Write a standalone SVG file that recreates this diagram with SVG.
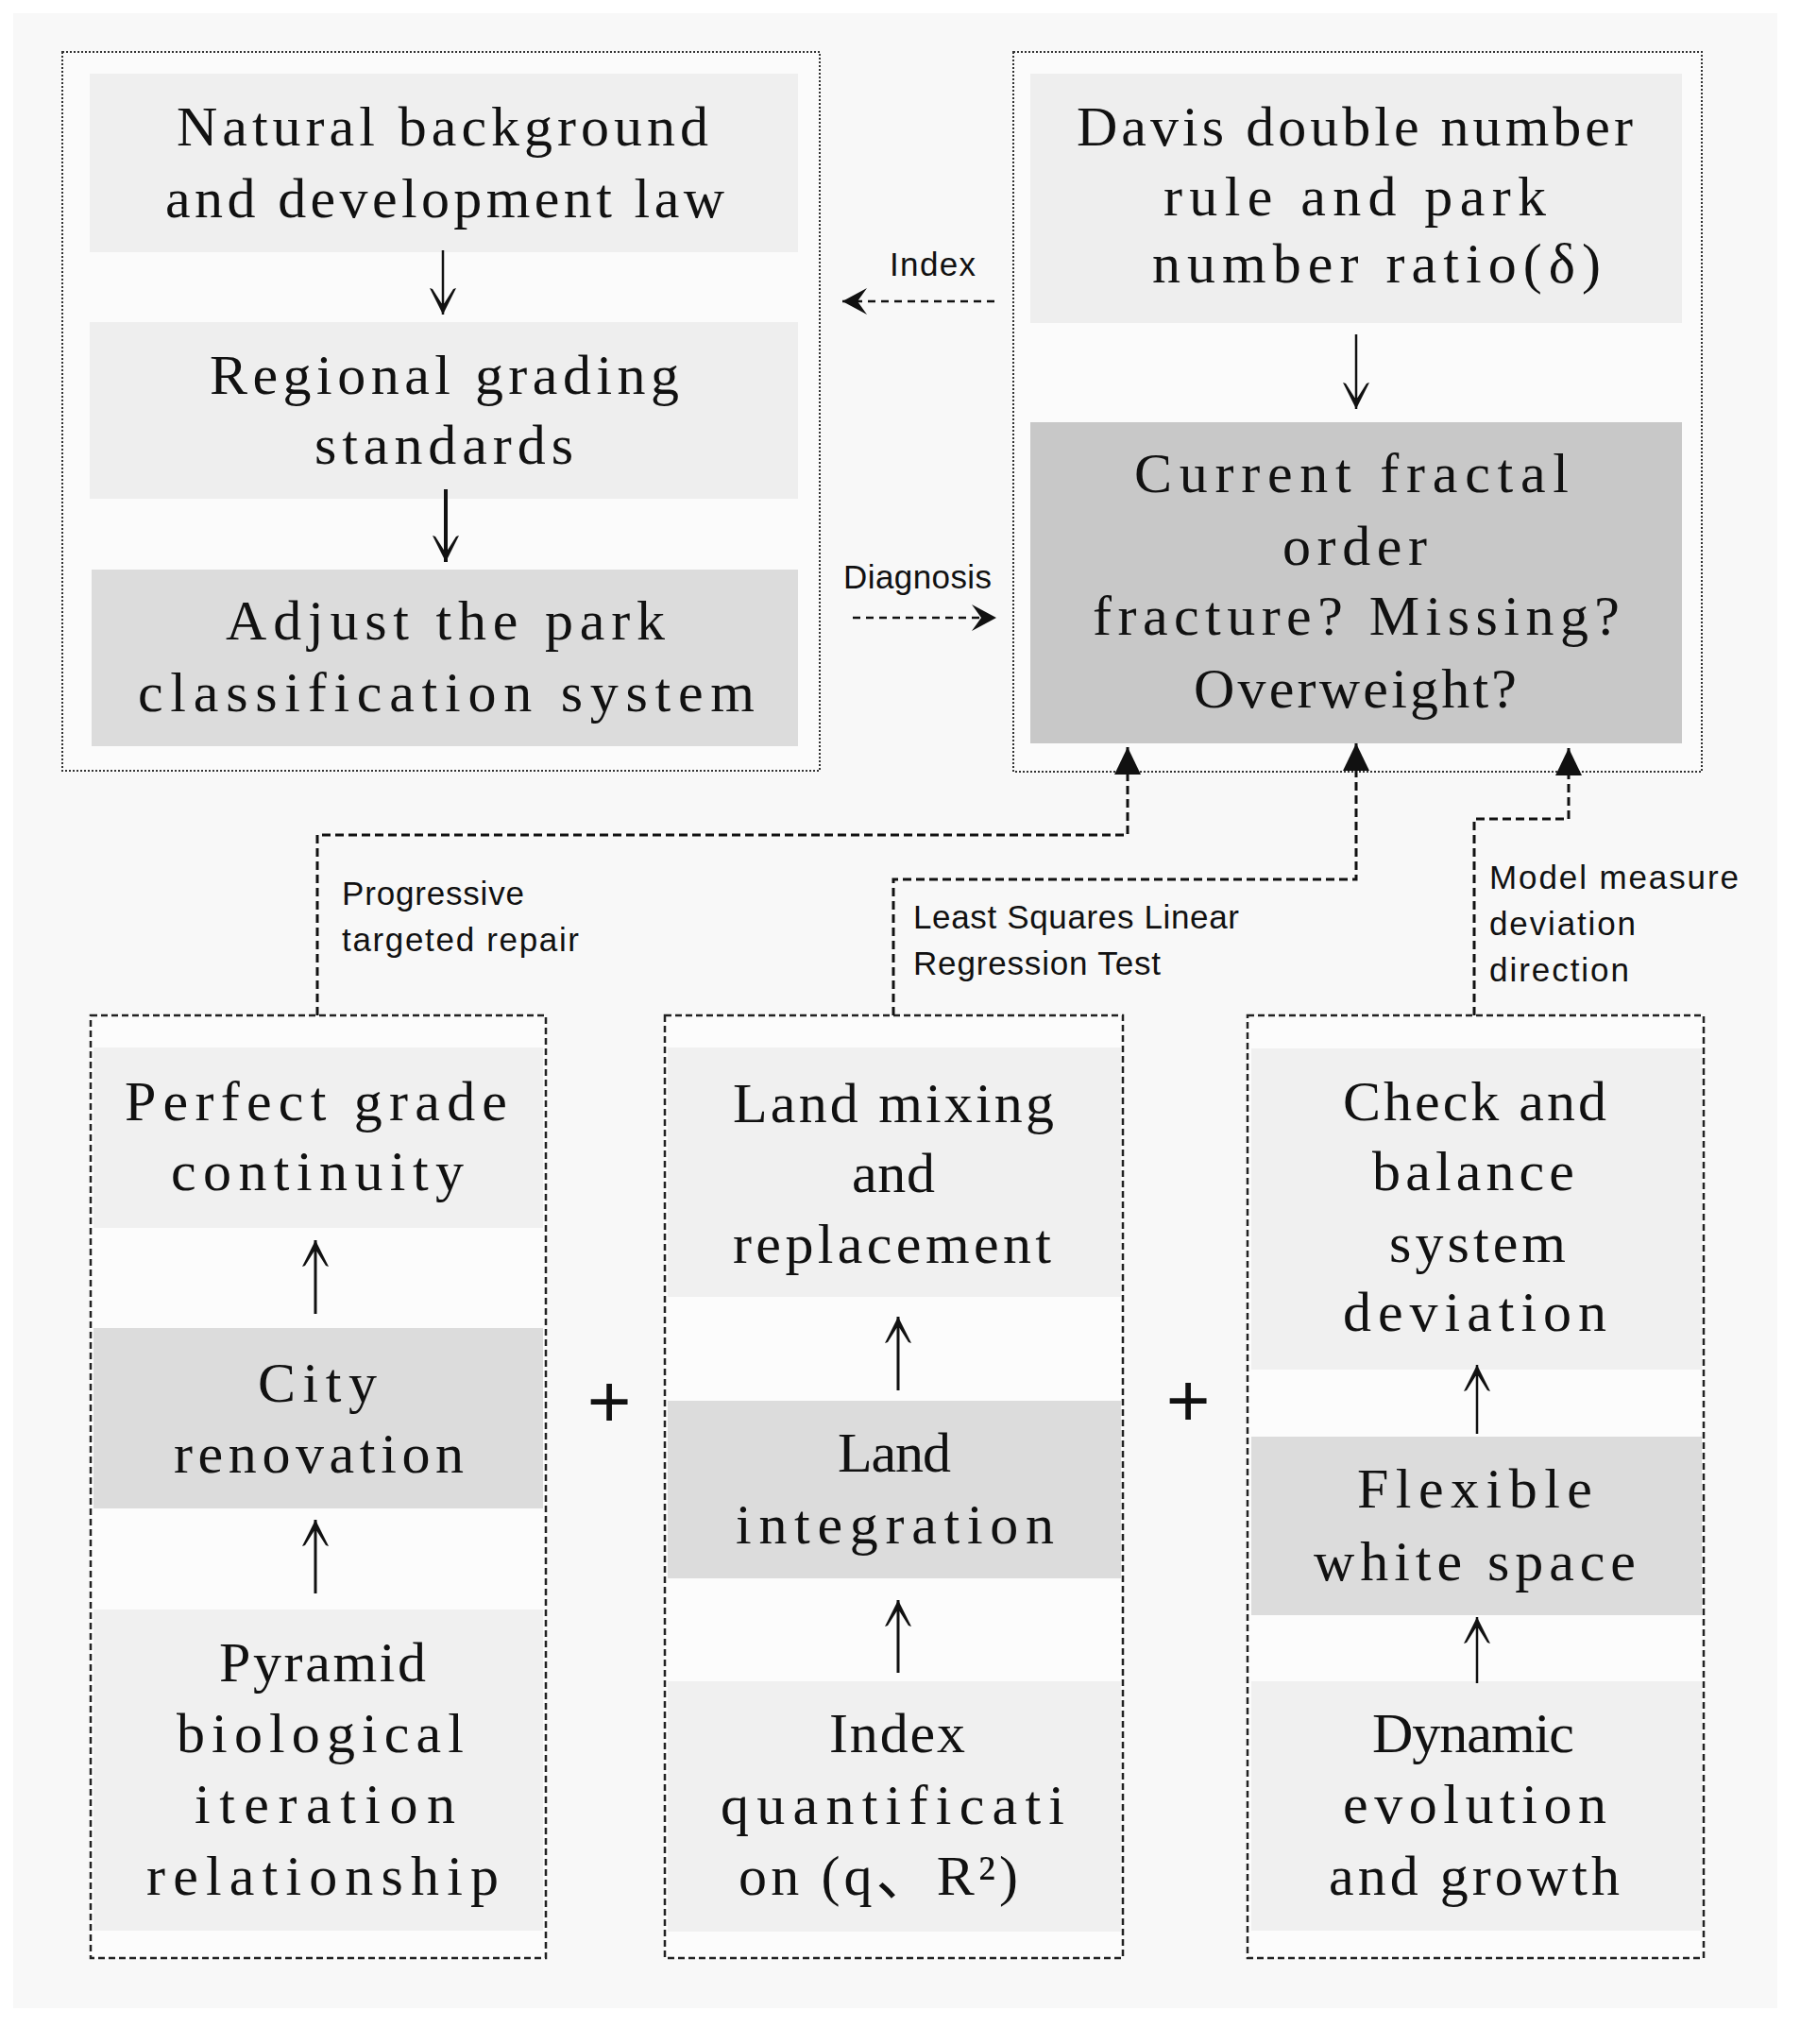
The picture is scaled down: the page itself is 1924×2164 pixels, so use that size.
<svg xmlns="http://www.w3.org/2000/svg" width="1924" height="2164" viewBox="0 0 1924 2164">
<defs>
<style>
.t{font-family:"Liberation Serif","Noto Sans CJK SC",serif;font-size:60px;fill:#111;}
.l{font-family:"Liberation Sans","Noto Sans",sans-serif;font-size:35px;fill:#111;}
.lite{fill:#f0f0f0;}
.mid{fill:#dcdcdc;}
.dark{fill:#c8c8c8;}
.dot{fill:#fbfbfb;stroke:#333;stroke-width:2;stroke-dasharray:2 2;}
.dash{fill:#fcfcfc;stroke:#222;stroke-width:2.5;stroke-dasharray:7 4;}
.con{fill:none;stroke:#111;stroke-width:3;stroke-dasharray:9 5;}
.arr{fill:none;stroke:#111;stroke-width:2.5;}
</style>
<marker id="vh" markerUnits="userSpaceOnUse" orient="auto" refX="0" refY="0" overflow="visible">
<path d="M0,0 L-28,-14 L-27,-11 L-12,-1.5 L-12,1.5 L-27,11 L-28,14 Z" fill="#111"/>
</marker>
<marker id="tri" markerUnits="userSpaceOnUse" orient="auto" refX="0" refY="0" overflow="visible">
<path d="M0,0 L-29,-14 L-29,14 Z" fill="#111"/>
</marker>
<marker id="st" markerUnits="userSpaceOnUse" orient="auto" refX="0" refY="0" overflow="visible">
<path d="M0,0 L-26,-14 L-16,0 L-26,14 Z" fill="#111"/>
</marker>
</defs>
<rect x="0" y="0" width="1924" height="2164" fill="#ffffff"/>
<rect x="14" y="14" width="1868" height="2112" fill="#f8f8f8"/>

<g id="group-top-left">
<rect class="dot" x="66" y="55" width="802" height="761"/>
<g id="n-natural">
<rect class="lite" x="95" y="78" width="750" height="189" style="fill:#efefef"/>
<text class="t" x="187" y="154" textLength="563" lengthAdjust="spacing">Natural background</text>
<text class="t" x="175" y="230" textLength="592" lengthAdjust="spacing">and development law</text>
</g>
<g id="n-regional">
<rect class="lite" x="95" y="341" width="750" height="187" style="fill:#eeeeee"/>
<text class="t" x="222" y="417" textLength="497" lengthAdjust="spacing">Regional grading</text>
<text class="t" x="333" y="491" textLength="274" lengthAdjust="spacing">standards</text>
</g>
<g id="n-adjust">
<rect class="mid" x="97" y="603" width="748" height="187"/>
<text class="t" x="239" y="677" textLength="465" lengthAdjust="spacing">Adjust the park</text>
<text class="t" x="146" y="753" textLength="653" lengthAdjust="spacing">classification system</text>
</g>
</g>

<g id="group-top-right">
<rect class="dot" x="1073" y="55" width="729" height="762"/>
<g id="n-davis">
<rect class="lite" x="1091" y="78" width="690" height="264" style="fill:#eeeeee"/>
<text class="t" x="1140" y="154" textLength="589" lengthAdjust="spacing">Davis double number</text>
<text class="t" x="1232" y="228" textLength="405" lengthAdjust="spacing">rule and park</text>
<text class="t" x="1220" y="299" textLength="475" lengthAdjust="spacing">number ratio(δ)</text>
</g>
<g id="n-current">
<rect class="dark" x="1091" y="447" width="690" height="340"/>
<text class="t" x="1201" y="521" textLength="460" lengthAdjust="spacing">Current fractal</text>
<text class="t" x="1358" y="598" textLength="153" lengthAdjust="spacing">order</text>
<text class="t" x="1157" y="672" textLength="558" lengthAdjust="spacing">fracture? Missing?</text>
<text class="t" x="1264" y="749" textLength="342" lengthAdjust="spacing">Overweight?</text>
</g>
</g>

<g id="group-bottom-left">
<rect class="dash" x="96" y="1075" width="482" height="998"/>
<g id="n-perfect">
<rect class="lite" x="99" y="1109" width="476" height="191"/>
<text class="t" x="132" y="1186" textLength="405" lengthAdjust="spacing">Perfect grade</text>
<text class="t" x="181" y="1260" textLength="310" lengthAdjust="spacing">continuity</text>
</g>
<g id="n-city">
<rect class="mid" x="99" y="1406" width="476" height="191"/>
<text class="t" x="273" y="1484" textLength="126" lengthAdjust="spacing">City</text>
<text class="t" x="184" y="1559" textLength="307" lengthAdjust="spacing">renovation</text>
</g>
<g id="n-pyramid">
<rect class="lite" x="99" y="1704" width="476" height="340"/>
<text class="t" x="232" y="1780" textLength="219" lengthAdjust="spacing">Pyramid</text>
<text class="t" x="187" y="1855" textLength="304" lengthAdjust="spacing">biological</text>
<text class="t" x="206" y="1930" textLength="276" lengthAdjust="spacing">iteration</text>
<text class="t" x="155" y="2006" textLength="373" lengthAdjust="spacing">relationship</text>
</g>
</g>

<g id="group-bottom-middle">
<rect class="dash" x="704" y="1075" width="485" height="998"/>
<g id="n-landmix">
<rect class="lite" x="707" y="1109" width="480" height="264"/>
<text class="t" x="776" y="1188" textLength="340" lengthAdjust="spacing">Land mixing</text>
<text class="t" x="902" y="1262" textLength="88" lengthAdjust="spacing">and</text>
<text class="t" x="776" y="1337" textLength="337" lengthAdjust="spacing">replacement</text>
</g>
<g id="n-landint">
<rect class="mid" x="707" y="1483" width="480" height="188"/>
<text class="t" x="887" y="1558" textLength="120" lengthAdjust="spacing">Land</text>
<text class="t" x="779" y="1634" textLength="337" lengthAdjust="spacing">integration</text>
</g>
<g id="n-index">
<rect class="lite" x="707" y="1780" width="480" height="265"/>
<text class="t" x="878" y="1855" textLength="144" lengthAdjust="spacing">Index</text>
<text class="t" x="763" y="1931" textLength="364" lengthAdjust="spacing">quantificati</text>
<text class="t" x="782" y="2006" textLength="296" lengthAdjust="spacing">on (q、R²)</text>
</g>
</g>

<g id="group-bottom-right">
<rect class="dash" x="1321" y="1075" width="483" height="998"/>
<g id="n-check">
<rect class="lite" x="1325" y="1110" width="477" height="340"/>
<text class="t" x="1422" y="1186" textLength="279" lengthAdjust="spacing">Check and</text>
<text class="t" x="1453" y="1260" textLength="214" lengthAdjust="spacing">balance</text>
<text class="t" x="1471" y="1336" textLength="187" lengthAdjust="spacing">system</text>
<text class="t" x="1422" y="1409" textLength="279" lengthAdjust="spacing">deviation</text>
</g>
<g id="n-flexible">
<rect class="mid" x="1325" y="1521" width="477" height="189"/>
<text class="t" x="1437" y="1596" textLength="249" lengthAdjust="spacing">Flexible</text>
<text class="t" x="1391" y="1673" textLength="341" lengthAdjust="spacing">white space</text>
</g>
<g id="n-dynamic">
<rect class="lite" x="1325" y="1780" width="477" height="264"/>
<text class="t" x="1453" y="1855" textLength="214" lengthAdjust="spacing">Dynamic</text>
<text class="t" x="1422" y="1930" textLength="279" lengthAdjust="spacing">evolution</text>
<text class="t" x="1407" y="2006" textLength="308" lengthAdjust="spacing">and growth</text>
</g>
</g>

<g id="plus-signs">
<text x="645" y="1511" text-anchor="middle" style="font-family:'Liberation Sans',sans-serif;font-size:80px;fill:#111">+</text>
<text x="1258" y="1510" text-anchor="middle" style="font-family:'Liberation Sans',sans-serif;font-size:80px;fill:#111">+</text>
</g>

<g id="connectors">
<line class="arr" x1="469" y1="265" x2="469" y2="333" marker-end="url(#vh)"/>
<line class="arr" x1="472" y1="518" x2="472" y2="595" marker-end="url(#vh)" style="stroke-width:4"/>
<line class="arr" x1="1436" y1="354" x2="1436" y2="433" marker-end="url(#vh)"/>
<line class="arr" x1="334" y1="1391" x2="334" y2="1313" marker-end="url(#vh)" style="stroke-width:3"/>
<line class="arr" x1="334" y1="1687" x2="334" y2="1609" marker-end="url(#vh)" style="stroke-width:3"/>
<line class="arr" x1="951" y1="1472" x2="951" y2="1394" marker-end="url(#vh)" style="stroke-width:3"/>
<line class="arr" x1="951" y1="1771" x2="951" y2="1694" marker-end="url(#vh)" style="stroke-width:3"/>
<line class="arr" x1="1564" y1="1518" x2="1564" y2="1445" marker-end="url(#vh)"/>
<line class="arr" x1="1564" y1="1782" x2="1564" y2="1712" marker-end="url(#vh)"/>

<line class="con" x1="1053" y1="319" x2="892" y2="319" marker-end="url(#st)" style="stroke-width:2.5;stroke-dasharray:8 6"/>
<line class="con" x1="903" y1="654" x2="1055" y2="654" marker-end="url(#st)" style="stroke-width:2.5;stroke-dasharray:8 6"/>

<path class="con" d="M336,1075 V884 H1194 V791" marker-end="url(#tri)"/>
<path class="con" d="M946,1075 V931 H1436 V787" marker-end="url(#tri)"/>
<path class="con" d="M1561,1075 V867 H1661 V792" marker-end="url(#tri)"/>
</g>

<g id="labels">
<text class="l" x="942" y="292" textLength="91" lengthAdjust="spacing">Index</text>
<text class="l" x="893" y="623" textLength="157" lengthAdjust="spacing">Diagnosis</text>
<text class="l" x="362" y="958" textLength="193" lengthAdjust="spacing">Progressive</text>
<text class="l" x="362" y="1007" textLength="251" lengthAdjust="spacing">targeted repair</text>
<text class="l" x="967" y="983" textLength="345" lengthAdjust="spacing">Least Squares Linear</text>
<text class="l" x="967" y="1032" textLength="262" lengthAdjust="spacing">Regression Test</text>
<text class="l" x="1577" y="941" textLength="264" lengthAdjust="spacing">Model measure</text>
<text class="l" x="1577" y="990" textLength="155" lengthAdjust="spacing">deviation</text>
<text class="l" x="1577" y="1039" textLength="148" lengthAdjust="spacing">direction</text>
</g>
</svg>
